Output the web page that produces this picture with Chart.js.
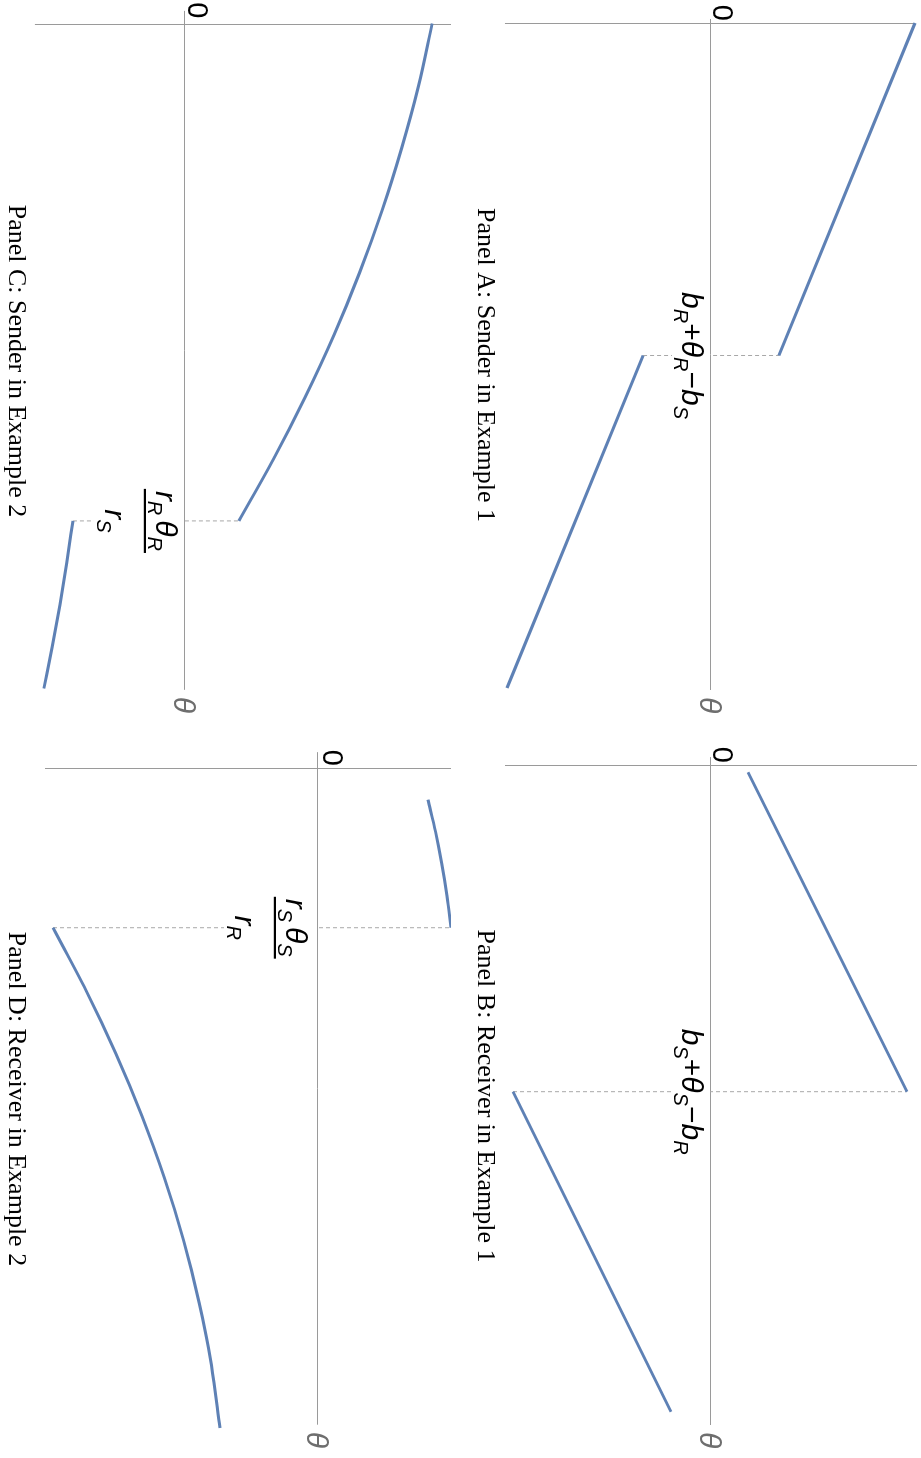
<!DOCTYPE html>
<html>
<head>
<meta charset="utf-8">
<script src="https://cdn.jsdelivr.net/npm/chart.js@4.4.1/dist/chart.umd.min.js"></script>
<style>
  html, body { margin: 0; padding: 0; background: #fff; overflow: hidden; }
  #page { position: absolute; left: 0; top: 0; width: 921px; height: 1458px; overflow: hidden; background: #fff; }
  /* the four panels are laid out landscape and turned a quarter clockwise */
  #fig { position: absolute; left: 0; top: 0; width: 1458px; height: 921px;
         transform-origin: 0 0; transform: translate(921px, 0) rotate(90deg); }
  #fig canvas { position: absolute; }
</style>
</head>
<body>
<div id="page"><div id="fig">
  <canvas id="pA"></canvas>
  <canvas id="pB"></canvas>
  <canvas id="pC"></canvas>
  <canvas id="pD"></canvas>
</div></div>
<script>
// ---- Panel A: Sender in Example 1 ----
const thetaA1 = [0, 0.5];
const valueA1 = [1.0, 0.333];
const thetaA2 = [0.5, 1.0];
const valueA2 = [-0.333, -1.0];
const cutA = 0.5;
const tickA = "b_R+θ_R−b_S";

// ---- Panel B: Receiver in Example 1 ----
const thetaB1 = [0.011, 0.495];
const valueB1 = [0.185, 0.98];
const thetaB2 = [0.495, 0.980];
const valueB2 = [-0.99, -0.2];
const cutB = 0.495;
const tickB = "b_S+θ_S−b_R";

// ---- Panel C: Sender in Example 2 ----
const thetaC1 = [0, 0.094, 0.187, 0.281, 0.375, 0.468, 0.562, 0.655, 0.748];
const valueC1 = [1.238, 1.170, 1.086, 0.988, 0.875, 0.748, 0.603, 0.445, 0.272];
const thetaC2 = [0.748, 0.811, 0.874, 0.937, 1.0];
const valueC2 = [-0.558, -0.589, -0.623, -0.661, -0.703];
const cutC = 0.748;
const tickCNum = "r_R θ_R";
const tickCDen = "r_S";

// ---- Panel D: Receiver in Example 2 ----
const thetaD1 = [0.048, 0.097, 0.145, 0.194, 0.242];
const valueD1 = [0.55, 0.588, 0.619, 0.645, 0.665];
const thetaD2 = [0.242, 0.337, 0.432, 0.527, 0.621, 0.716, 0.811, 0.905, 1.0];
const valueD2 = [-1.325, -1.160, -1.012, -0.881, -0.768, -0.672, -0.594, -0.533, -0.49];
const cutD = 0.242;
const tickDNum = "r_S θ_S";
const tickDDen = "r_R";

const zeroLabel = "0";
const axisName = "θ";
const captions = [
  "Panel A: Sender in Example 1",
  "Panel B: Receiver in Example 1",
  "Panel C: Sender in Example 2",
  "Panel D: Receiver in Example 2"
];

const LINE = "#5e81b5";
const AXIS = "#9a9a9a";
const DASH = "#a8a8a8";
const SANS = '"Liberation Sans", Arial, sans-serif';
const SERIF = '"Liberation Serif", "Times New Roman", serif';
const FS = 30;

// ---- small rich-text helpers (letters italic, "_X" = subscript X) ----
function tokens(s) {
  const out = [];
  for (let i = 0; i < s.length; i++) {
    const c = s[i];
    if (c === '_') out.push({ t: s[++i], sub: true });
    else out.push({ t: c, sub: false });
  }
  return out;
}
function fontFor(tk, size) {
  const it = /[A-Za-z\u03b1-\u03c9\u0391-\u03a9]/.test(tk.t);
  const sz = tk.sub ? size * 0.67 : size;
  return (it ? 'italic ' : '') + sz.toFixed(1) + 'px ' + SANS;
}
function richWidth(ctx, s, size) {
  let w = 0;
  for (const tk of tokens(s)) {
    if (tk.t === ' ') { w += size * 0.16; continue; }
    ctx.font = fontFor(tk, size);
    w += ctx.measureText(tk.t).width;
  }
  return w;
}
function drawRich(ctx, s, x, base, size) {
  let cx = x;
  ctx.textAlign = 'left';
  ctx.textBaseline = 'alphabetic';
  for (const tk of tokens(s)) {
    if (tk.t === ' ') { cx += size * 0.16; continue; }
    ctx.font = fontFor(tk, size);
    ctx.fillText(tk.t, cx, base + (tk.sub ? size * 0.26 : 0));
    cx += ctx.measureText(tk.t).width;
  }
}
function zip(xs, ys) { return xs.map((x, i) => ({ x: x, y: ys[i] })); }

// ---- panel layout (canvas box, origin pixel inside it, pixels per unit) ----
const panels = [
  { id: 'pA', box: [0, 0, 729, 470], origin: [23, 210], unit: [665, 204],
    axisX: [-0.006, 1.003], axisY: [-1.01, 1.0],
    curves: [[thetaA1, valueA1, false], [thetaA2, valueA2, false]],
    cut: cutA, dash: [valueA2[0], valueA1[1]],
    label: { kind: 'text', s: tickA }, zero: [2, -2], caption: [captions[0], 365, 443] },
  { id: 'pB', box: [729, 0, 729, 470], origin: [36, 210], unit: [660, 200],
    axisX: [-0.012, 1.0], axisY: [-1.03, 1.03],
    curves: [[thetaB1, valueB1, false], [thetaB2, valueB2, false]],
    cut: cutB, dash: [valueB2[0], valueB1[1]],
    label: { kind: 'text', s: tickB }, zero: [2, -2], caption: [captions[1], 367, 443] },
  { id: 'pC', box: [0, 470, 729, 451], origin: [23.5, 266.5], unit: [665, 200],
    axisX: [-0.019, 1.002], axisY: [-0.748, 1.343],
    curves: [[thetaC1, valueC1, true], [thetaC2, valueC2, true]],
    cut: cutC, dash: [valueC2[0], valueC1[valueC1.length - 1]],
    label: { kind: 'frac', num: tickCNum, den: tickCDen, bar: 40 }, zero: [5, -3.5], caption: [captions[2], 361, 442] },
  { id: 'pD', box: [729, 470, 729, 451], origin: [39, 133], unit: [660, 200],
    axisX: [-0.024, 0.995], axisY: [-1.365, 0.71],
    curves: [[thetaD1, valueD1, true], [thetaD2, valueD2, true]],
    cut: cutD, dash: [valueD2[0], valueD1[valueD1.length - 1]],
    label: { kind: 'frac', num: tickDNum, den: tickDDen, bar: 43 }, zero: [2, -5], caption: [captions[3], 370, 442] }
];

// axes, tick labels and caption drawn on each chart's scales
const decorations = {
  id: 'decorations',
  beforeDatasetsDraw(chart, args, opts) {
    const p = opts.panel, ctx = chart.ctx;
    const xs = chart.scales.x, ys = chart.scales.y;
    const y0 = Math.round(ys.getPixelForValue(0)) + 0.5;
    const x0 = Math.round(xs.getPixelForValue(0)) + 0.5;
    ctx.save();
    ctx.strokeStyle = AXIS;
    ctx.lineWidth = 1;
    ctx.beginPath();
    ctx.moveTo(xs.getPixelForValue(p.axisX[0]), y0);
    ctx.lineTo(xs.getPixelForValue(p.axisX[1]), y0);
    ctx.moveTo(x0, ys.getPixelForValue(p.axisY[1]));
    ctx.lineTo(x0, ys.getPixelForValue(p.axisY[0]));
    ctx.stroke();
    ctx.restore();
  },
  afterDatasetsDraw(chart, args, opts) {
    const p = opts.panel, ctx = chart.ctx;
    const xs = chart.scales.x, ys = chart.scales.y;
    const y0 = Math.round(ys.getPixelForValue(0));
    const x0 = xs.getPixelForValue(0);
    const xc = xs.getPixelForValue(p.cut);
    ctx.save();
    ctx.fillStyle = '#000';
    // value at the jump, under the axis
    if (p.label.kind === 'text') {
      const w = richWidth(ctx, p.label.s, FS);
      ctx.fillStyle = '#fff';
      ctx.fillRect(xc - w / 2 - 3, y0 + 1, w + 6, 38);
      ctx.fillStyle = '#000';
      drawRich(ctx, p.label.s, xc - w / 2, y0 + 29, FS);
    } else {
      const wn = richWidth(ctx, p.label.num, FS);
      const wd = richWidth(ctx, p.label.den, FS);
      const bw = Math.max(wn, wd) + 4;
      const by = y0 + p.label.bar;
      ctx.fillStyle = '#fff';
      ctx.fillRect(xc - bw / 2 - 3, y0 + 1, bw + 6, p.label.bar + 50);
      ctx.fillStyle = '#000';
      drawRich(ctx, p.label.num, xc - wn / 2, by - 11, FS);
      ctx.fillRect(xc - bw / 2, by - 1, bw, 2.2);
      drawRich(ctx, p.label.den, xc - wd / 2, by + 40, FS);
    }
    // origin tick
    ctx.font = '29px ' + SANS;
    ctx.textAlign = 'right';
    ctx.textBaseline = 'alphabetic';
    ctx.fillText(zeroLabel, x0 - p.zero[0], y0 + p.zero[1]);
    // axis name at the end of the horizontal axis
    ctx.font = 'italic 30px ' + SANS;
    ctx.fillStyle = '#6e6e6e';
    ctx.textAlign = 'left';
    ctx.fillText(axisName, xs.getPixelForValue(p.axisX[1]) + 7, y0 + 11);
    // caption
    ctx.font = '26px ' + SERIF;
    ctx.fillStyle = '#000';
    ctx.textAlign = 'center';
    ctx.fillText(p.caption[0], p.caption[1], p.caption[2]);
    ctx.restore();
  }
};

for (const p of panels) {
  const cv = document.getElementById(p.id);
  const [L, T, W, H] = p.box;
  cv.width = W; cv.height = H;
  cv.style.left = L + 'px'; cv.style.top = T + 'px';
  cv.style.width = W + 'px'; cv.style.height = H + 'px';
  const xMin = -p.origin[0] / p.unit[0];
  const xMax = (W - p.origin[0]) / p.unit[0];
  const yMax = p.origin[1] / p.unit[1];
  const yMin = -(H - p.origin[1]) / p.unit[1];
  const datasets = p.curves.map(c => ({
    data: zip(c[0], c[1]),
    borderColor: LINE, borderWidth: 3, fill: false, pointRadius: 0,
    cubicInterpolationMode: c[2] ? 'monotone' : 'default', order: 0
  }));
  datasets.push({
    data: [{ x: p.cut, y: p.dash[0] }, { x: p.cut, y: p.dash[1] }],
    borderColor: DASH, borderWidth: 1, borderDash: [4, 3], fill: false, pointRadius: 0, order: 1
  });
  new Chart(cv, {
    type: 'line',
    data: { datasets: datasets },
    options: {
      responsive: false, animation: false, devicePixelRatio: 1, events: [],
      layout: { padding: 0 },
      plugins: { legend: { display: false }, tooltip: { enabled: false }, decorations: { panel: p } },
      scales: {
        x: { type: 'linear', min: xMin, max: xMax, display: false },
        y: { type: 'linear', min: yMin, max: yMax, display: false }
      }
    },
    plugins: [decorations]
  });
}
</script>
</body>
</html>
